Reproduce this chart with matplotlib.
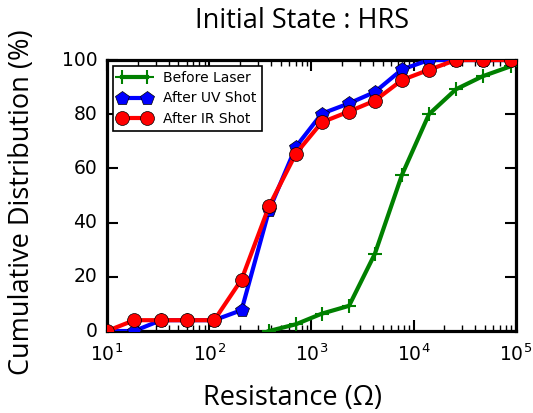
import matplotlib
matplotlib.use("Agg")
import matplotlib.pyplot as plt

resistance = [10, 18.5, 33.7, 61, 112, 207, 384, 705, 1260, 2330, 4170, 7670, 14100, 25900, 47200, 89000]
before_x = [384, 705, 1260, 2330, 4170, 7670, 14100, 25900, 47200, 89000]
before_laser = [0, 2.5, 6.4, 9.3, 28.5, 57.6, 80, 89.2, 94, 97.7]
after_uv = [0, 0, 4, 4, 4, 7.7, 44.5, 68, 80.2, 84, 88.2, 96.5, 100, 100, 100, 100]
after_ir = [0, 4, 4, 4, 4, 19, 46, 65.5, 77, 81, 85, 92.6, 96.4, 100, 100, 100]

plt.style.use("classic")
fig = plt.figure(figsize=(5.33, 4.13), dpi=100)
fig.patch.set_facecolor("white")
ax = fig.add_axes([0.2008, 0.1985, 0.7672, 0.6562])

ax.plot(before_x, before_laser, color="green", lw=3, marker="+", ms=10, mew=1.5, label="Before Laser", zorder=3)
ax.plot(resistance, after_uv, color="blue", lw=3, marker="p", ms=10, label="After UV Shot", zorder=4)
ax.plot(resistance, after_ir, color="red", lw=3, marker="o", ms=10, label="After IR Shot", zorder=5)

ax.set_xscale("log")
ax.set_xlim(10, 1e5)
ax.set_ylim(0, 100)
ax.set_yticks([0, 20, 40, 60, 80, 100])
for sp in ax.spines.values():
    sp.set_linewidth(2.3)
ax.tick_params(which="major", length=8, width=1.5, labelsize=13.5)
ax.tick_params(axis="x", which="major", pad=9)
ax.tick_params(axis="y", which="major", pad=7)
ax.tick_params(which="minor", length=4, width=1)

leg = ax.legend(loc="upper left", fontsize=10, numpoints=2, handlelength=2.4,
                borderaxespad=0.4, fancybox=False, labelspacing=0.45)
leg.get_frame().set_linewidth(1.2)

fig.text(0.567, 0.932, "Initial State : HRS", ha="center", va="baseline", fontsize=19.5, family="Open Sans")
fig.text(0.548, 0.019, "Resistance (Ω)", ha="center", va="baseline", fontsize=19.5, family="Open Sans")
fig.text(0.041, 0.511, "Cumulative Distribution (%)", ha="center", va="center", rotation=90, fontsize=19.5, family="Open Sans")

fig.savefig("out.png", dpi=100, facecolor="white")
